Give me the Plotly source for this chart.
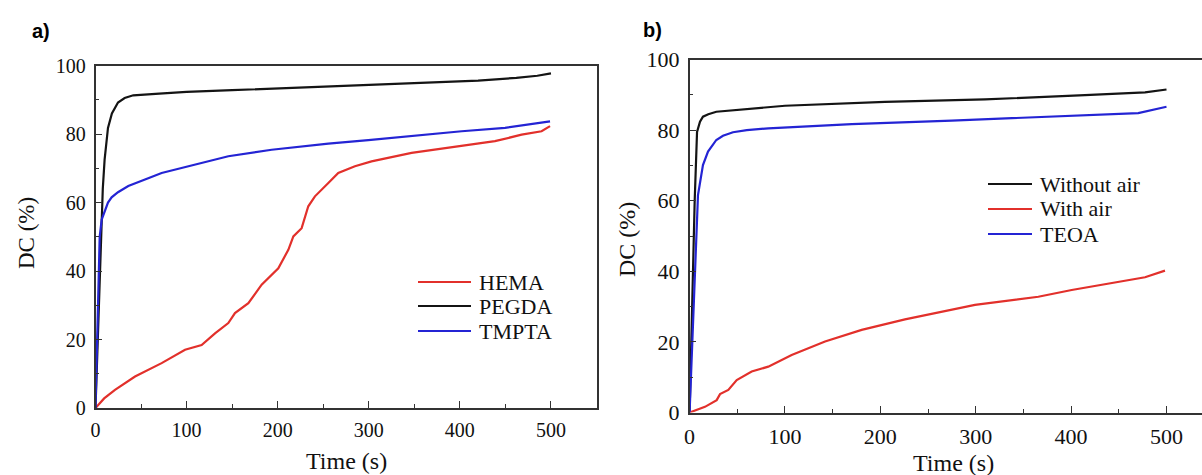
import plotly.graph_objects as go

# ---------------- Panel a) ----------------
pegda_t = [0, 2, 4, 6.4, 8, 10, 13.7, 18, 24.7, 32, 41.5, 70, 100, 150, 213.5, 280, 359.5, 420, 462, 485, 500]
pegda_v = [0, 15, 35, 53, 64, 72.5, 81.8, 86, 89.2, 90.5, 91.3, 91.8, 92.3, 92.8, 93.5, 94.1, 94.9, 95.6, 96.4, 97.0, 97.7]

tmpta_t = [0, 2, 4.6, 6.8, 10, 13.7, 17.7, 24.7, 36, 46.7, 60, 72.6, 109, 145.8, 193.4, 255.6, 299.5, 347, 402, 449.6, 475, 499]
tmpta_v = [0, 25, 50, 55, 57.5, 60.0, 61.5, 63.0, 64.8, 66.0, 67.3, 68.6, 71.1, 73.5, 75.4, 77.2, 78.2, 79.5, 80.8, 81.8, 82.7, 83.7]

hema_t = [0, 9.5, 21.4, 43.4, 72.6, 98.3, 116.5, 131.2, 145.8, 153.1, 167.8, 182.4, 200.7, 211.7, 217.2, 226.3,
          233.6, 240.9, 255.6, 266.5, 284.8, 303, 347, 383.6, 438.5, 467.8, 489.7, 499]
hema_v = [0, 2.8, 5.3, 9.2, 13.1, 17.0, 18.4, 21.8, 24.8, 27.7, 30.6, 36.0, 40.8, 46.2, 50.1, 52.5,
          58.9, 61.8, 65.7, 68.6, 70.6, 72.0, 74.5, 75.9, 77.9, 79.8, 80.8, 82.3]

# ---------------- Panel b) ----------------
noair_t = [0, 2.9, 5.3, 7.8, 10.9, 14, 19.6, 28, 47.6, 100, 204.9, 309.7, 414.5, 477.5, 500]
noair_v = [0, 35.2, 59.7, 79.5, 82.4, 83.8, 84.5, 85.2, 85.7, 86.9, 88.0, 88.7, 89.9, 90.7, 91.5]

teoa_t = [0, 3.6, 7, 8.8, 14, 19.3, 28, 35, 45.5, 60, 82.5, 170, 274.8, 379.6, 470.4, 500]
teoa_v = [0, 25.7, 44.6, 61.6, 70.1, 73.9, 77.2, 78.4, 79.4, 80.0, 80.5, 81.7, 82.7, 83.8, 84.8, 86.6]

air_t = [0, 2.2, 16.1, 28.4, 31.9, 40.6, 49.4, 65.1, 82.5, 107, 142, 180.4, 225.8, 299.2, 365.6, 400.6, 449.5, 477.5, 498.4]
air_v = [0, 0.2, 1.6, 3.5, 5.2, 6.4, 9.2, 11.6, 13.0, 16.3, 20.1, 23.4, 26.4, 30.5, 32.8, 34.7, 37.1, 38.3, 40.2]

x_ticks = [0, 100, 200, 300, 400, 500]
y_ticks = [0, 20, 40, 60, 80, 100]

RED = "#e2302b"
BLACK = "#141414"
BLUE = "#2424d4"
SERIF = "Liberation Serif, Times New Roman, serif"

W, H = 1202, 475
def px(x):
    return x / W
def py(y):
    return 1 - y / H

fig = go.Figure()
lw = 2.2
fig.add_trace(go.Scatter(x=hema_t, y=hema_v, mode="lines", line=dict(color=RED, width=lw), name="HEMA", xaxis="x", yaxis="y", showlegend=False))
fig.add_trace(go.Scatter(x=pegda_t, y=pegda_v, mode="lines", line=dict(color=BLACK, width=lw), name="PEGDA", xaxis="x", yaxis="y", showlegend=False))
fig.add_trace(go.Scatter(x=tmpta_t, y=tmpta_v, mode="lines", line=dict(color=BLUE, width=lw), name="TMPTA", xaxis="x", yaxis="y", showlegend=False))

fig.add_trace(go.Scatter(x=noair_t, y=noair_v, mode="lines", line=dict(color=BLACK, width=lw), name="Without air", xaxis="x2", yaxis="y2", showlegend=False))
fig.add_trace(go.Scatter(x=air_t, y=air_v, mode="lines", line=dict(color=RED, width=lw), name="With air", xaxis="x2", yaxis="y2", showlegend=False))
fig.add_trace(go.Scatter(x=teoa_t, y=teoa_v, mode="lines", line=dict(color=BLUE, width=lw), name="TEOA", xaxis="x2", yaxis="y2", showlegend=False))

AX = "#333333"
def xaxis(domain, rng, anchor, size, mirror):
    return dict(domain=domain, range=rng, anchor=anchor, tickvals=x_ticks, showgrid=False, zeroline=False,
                automargin=False,
                showline=True, linecolor=AX, linewidth=1.6, mirror=mirror,
                ticks="inside", ticklen=7, tickwidth=1.4, tickcolor=AX,
                minor=dict(ticks="inside", dtick=50, tick0=0, ticklen=4, tickwidth=1.2, tickcolor=AX, showgrid=False),
                tickfont=dict(family=SERIF, size=size, color="#111"), ticklabelstandoff=3)

def yaxis(domain, anchor, size, mirror):
    return dict(domain=domain, range=[0, 100], anchor=anchor, tickvals=y_ticks, showgrid=False, zeroline=False,
                automargin=False,
                showline=True, linecolor=AX, linewidth=1.6, mirror=mirror,
                ticks="inside", ticklen=7, tickwidth=1.4, tickcolor=AX,
                minor=dict(ticks="inside", dtick=10, tick0=0, ticklen=4, tickwidth=1.2, tickcolor=AX, showgrid=False),
                tickfont=dict(family=SERIF, size=size, color="#111"), ticklabelstandoff=4)

x1_dom = [px(95.5), px(596.5)]
y1_dom = [py(408), py(65.5)]
x2_dom = [px(689.6), 1.0]
y2_dom = [py(412.5), py(59.5)]
x2_max = (1202 - 689.6) / ((1166.5 - 689.6) / 500)

fig.update_layout(
    width=W, height=H, margin=dict(l=0, r=0, t=0, b=0, pad=0, autoexpand=False),
    paper_bgcolor="white", plot_bgcolor="white", showlegend=False,
    xaxis=xaxis(x1_dom, [0, 550], "y", 20, True),
    yaxis=yaxis(y1_dom, "x", 20, True),
    xaxis2=xaxis(x2_dom, [0, x2_max], "y2", 22, True),
    yaxis2=yaxis(y2_dom, "x2", 22, False),
)

ann = []
shapes = []
# panel labels
ann.append(dict(text="<b>a)</b>", x=px(30), y=py(31), xref="paper", yref="paper", xanchor="left", yanchor="middle",
                showarrow=False, font=dict(family="Liberation Sans, Arial", size=20, color="#000")))
ann.append(dict(text="<b>b)</b>", x=px(641), y=py(30), xref="paper", yref="paper", xanchor="left", yanchor="middle",
                showarrow=False, font=dict(family="Liberation Sans, Arial", size=20, color="#000")))
# axis titles
ann.append(dict(text="DC (%)", x=px(26), y=py(233), xref="paper", yref="paper", textangle=-90, showarrow=False,
                xanchor="center", yanchor="middle", font=dict(family=SERIF, size=23, color="#111")))
ann.append(dict(text="DC (%)", x=px(627), y=py(240), xref="paper", yref="paper", textangle=-90, showarrow=False,
                xanchor="center", yanchor="middle", font=dict(family=SERIF, size=24, color="#111")))
ann.append(dict(text="Time (s)", x=px(346), y=py(461), xref="paper", yref="paper", showarrow=False,
                xanchor="center", yanchor="middle", font=dict(family=SERIF, size=24, color="#111")))
ann.append(dict(text="Time (s)", x=px(953), y=py(463), xref="paper", yref="paper", showarrow=False,
                xanchor="center", yanchor="middle", font=dict(family=SERIF, size=24, color="#111")))

# custom legends
leg_a = [("HEMA", RED, 282), ("PEGDA", BLACK, 306), ("TMPTA", BLUE, 331)]
for name, col, yy in leg_a:
    shapes.append(dict(type="line", xref="paper", yref="paper", x0=px(418), x1=px(471), y0=py(yy), y1=py(yy),
                       line=dict(color=col, width=2)))
    ann.append(dict(text=name, x=px(477), y=py(yy), xref="paper", yref="paper", xanchor="left", yanchor="middle",
                    showarrow=False, font=dict(family=SERIF, size=22, color="#111")))
leg_b = [("Without air", BLACK, 184), ("With air", RED, 209), ("TEOA", BLUE, 234)]
for name, col, yy in leg_b:
    shapes.append(dict(type="line", xref="paper", yref="paper", x0=px(988), x1=px(1032), y0=py(yy), y1=py(yy),
                       line=dict(color=col, width=2)))
    ann.append(dict(text=name, x=px(1038), y=py(yy), xref="paper", yref="paper", xanchor="left", yanchor="middle",
                    showarrow=False, font=dict(family=SERIF, size=22, color="#111")))

fig.update_layout(annotations=ann, shapes=shapes)
fig.write_html("out.html", config={"displayModeBar": False},
               post_script="document.body.style.margin='0px';")
